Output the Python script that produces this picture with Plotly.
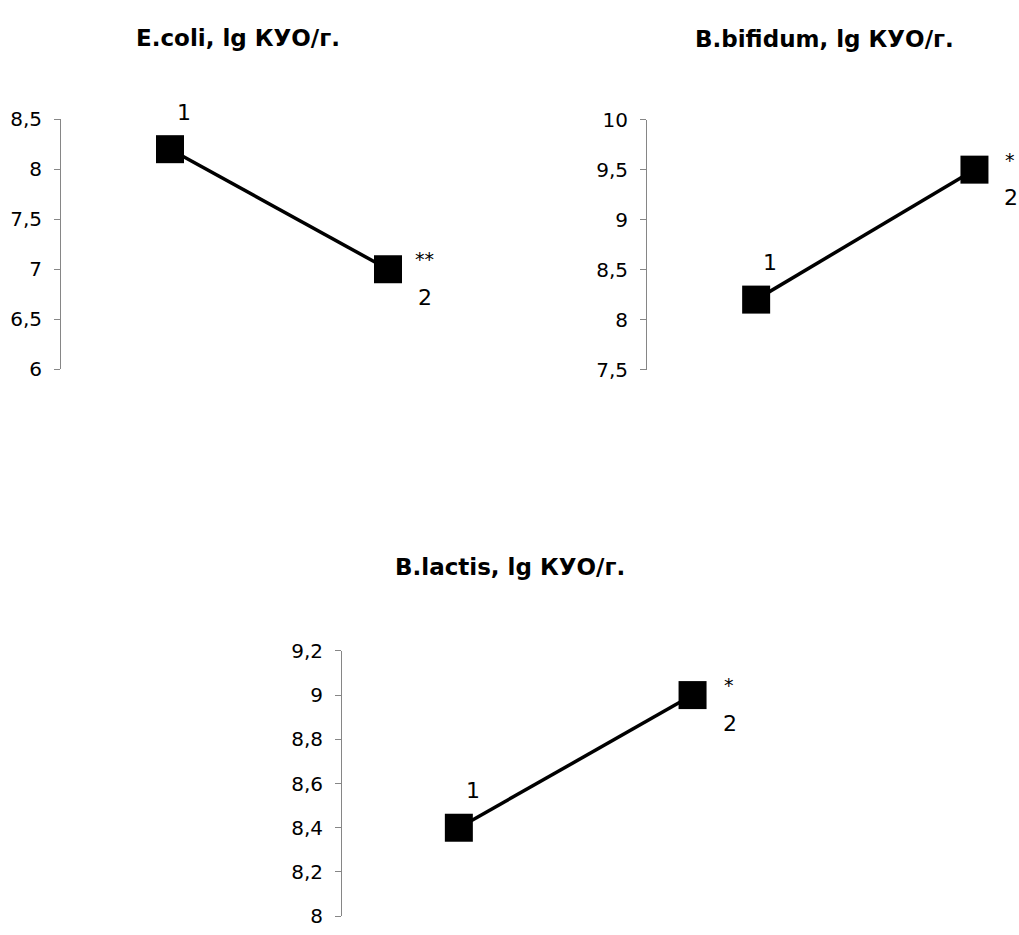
import plotly.graph_objects as go

# ---- data ----
groups = ["1", "2"]
ecoli = [8.2, 7.0]
bifidum = [8.2, 9.5]
lactis = [8.4, 9.0]

ecoli_marks = ["", "**"]
bifidum_marks = ["", "*"]
lactis_marks = ["", "*"]

titles = ["E.coli, lg КУО/г.", "B.bifidum, lg КУО/г.", "B.lactis, lg КУО/г."]

ecoli_ticks = [6, 6.5, 7, 7.5, 8, 8.5]
bifidum_ticks = [7.5, 8, 8.5, 9, 9.5, 10]
lactis_ticks = [8, 8.2, 8.4, 8.6, 8.8, 9, 9.2]

W, H = 1019, 935
FONT = "DejaVu Sans, Arial, sans-serif"


def fmt(v):
    return ("%g" % v).replace(".", ",")


fig = go.Figure()

panels = [
    ("x", "y", ecoli, ecoli_marks),
    ("x2", "y2", bifidum, bifidum_marks),
    ("x3", "y3", lactis, lactis_marks),
]

for xa, ya, vals, marks in panels:
    xs = list(range(len(groups)))
    fig.add_trace(go.Scatter(
        x=xs, y=vals, xaxis=xa, yaxis=ya, mode="lines+markers",
        line=dict(color="black", width=3.5),
        marker=dict(symbol="square", size=28, color="black"),
        cliponaxis=False, showlegend=False, hoverinfo="skip",
    ))
    fig.add_annotation(x=xs[0], y=vals[0], xref=xa, yref=ya, text=groups[0],
                       showarrow=False, xanchor="center", yanchor="middle",
                       xshift=14, yshift=37, font=dict(family=FONT, size=22, color="black"))
    fig.add_annotation(x=xs[1], y=vals[1], xref=xa, yref=ya, text=groups[1],
                       showarrow=False, xanchor="center", yanchor="middle",
                       xshift=37, yshift=-28, font=dict(family=FONT, size=22, color="black"))
    fig.add_annotation(x=xs[1], y=vals[1], xref=xa, yref=ya, text=marks[1],
                       showarrow=False, xanchor="center", yanchor="middle",
                       xshift=36, yshift=10, font=dict(family=FONT, size=19, color="black"))


def yax(ticks, domain, anchor):
    return dict(
        domain=domain, range=[ticks[0], ticks[-1]], tickmode="array",
        tickvals=ticks, ticktext=[fmt(t) for t in ticks], anchor=anchor,
        showline=True, linecolor="#868686", linewidth=1,
        ticks="outside", ticklen=6, tickcolor="#868686", tickwidth=1,
        showgrid=False, zeroline=False, ticklabelstandoff=8,
        tickfont=dict(family=FONT, size=20, color="black"), fixedrange=True,
    )


def xax(domain, rng, anchor):
    return dict(domain=domain, range=rng, visible=False, anchor=anchor, fixedrange=True)


fig.update_layout(
    width=W, height=H, margin=dict(l=0, r=0, t=0, b=0),
    paper_bgcolor="white", plot_bgcolor="white",
    xaxis=xax([61 / W, 497 / W], [-0.5, 1.5], "y"),
    yaxis=yax(ecoli_ticks, [(H - 366.7) / H, (H - 110) / H], "x"),
    xaxis2=xax([647 / W, 1.0], [-0.5, 1.204], "y2"),
    yaxis2=yax(bifidum_ticks, [(H - 367) / H, (H - 110.5) / H], "x2"),
    xaxis3=xax([342 / W, 809.4 / W], [-0.5, 1.5], "y3"),
    yaxis3=yax(lactis_ticks, [(H - 928) / H, (H - 655.7) / H], "x3"),
)

title_pos = [(238, 27), (824, 28), (510, 570)]
for t, (px, py) in zip(titles, title_pos):
    fig.add_annotation(x=px / W, y=(H - py) / H, xref="paper", yref="paper",
                       text="<b>%s</b>" % t, showarrow=False,
                       xanchor="center", yanchor="middle",
                       font=dict(family=FONT, size=23, color="black"))

fig.write_html("out.html")
